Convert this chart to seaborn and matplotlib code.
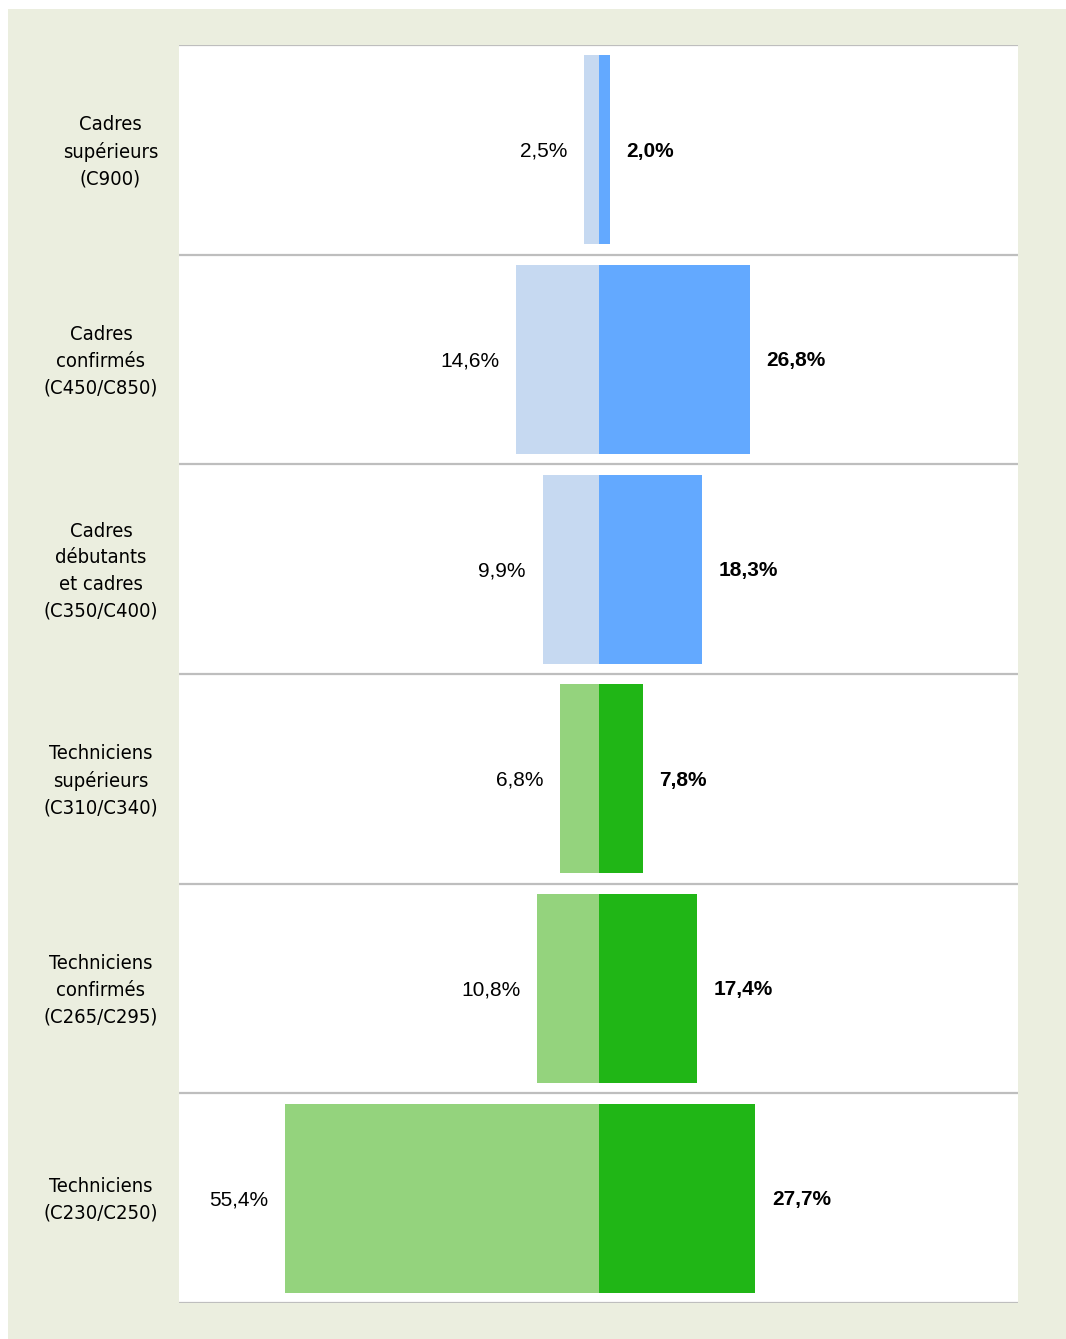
import numpy as np
import pandas as pd
import matplotlib.pyplot as plt
import matplotlib.transforms as mtransforms
import seaborn as sns
from matplotlib.patches import Rectangle

# Data
categories = ["Cadres\nsupérieurs\n(C900)",
              "Cadres\nconfirmés\n(C450/C850)",
              "Cadres\ndébutants\net cadres\n(C350/C400)",
              "Techniciens\nsupérieurs\n(C310/C340)",
              "Techniciens\nconfirmés\n(C265/C295)",
              "Techniciens\n(C230/C250)"]
left_values = [2.5, 14.6, 9.9, 6.8, 10.8, 55.4]
right_values = [2.0, 26.8, 18.3, 7.8, 17.4, 27.7]

light_colors = ["#C6D9F1"] * 3 + ["#94D37D"] * 3
dark_colors = ["#63A9FF"] * 3 + ["#20B616"] * 3

df = pd.DataFrame({"cat": categories,
                   "left": [-v for v in left_values],
                   "right": right_values})

sns.set_style("white")
plt.rcParams['font.family'] = ['Liberation Sans', 'DejaVu Sans']
plt.rcParams['text.color'] = 'black'
plt.rcParams['ytick.labelcolor'] = 'black'

fig = plt.figure(figsize=(10.66, 13.39), dpi=100, facecolor="white")
# beige frame behind the white plot area
fig.patches.append(Rectangle((8 / 1066, 0), 1, 1 - 9 / 1339, transform=fig.transFigure,
                             facecolor="#EBEEDF", edgecolor="none", zorder=-10))
ax = fig.add_axes([179 / 1066, 1 - 1303 / 1339, 839 / 1066, 1258 / 1339])
ax.set_facecolor("white")

sns.barplot(data=df, x="left", y="cat", hue="cat", palette=light_colors,
            orient="h", width=0.9, legend=False, ax=ax, saturation=1, linewidth=0)
sns.barplot(data=df, x="right", y="cat", hue="cat", palette=dark_colors,
            orient="h", width=0.9, legend=False, ax=ax, saturation=1, linewidth=0)

ax.set_xlim(-74.2, 74.2)
ax.set_ylim(len(categories) - 0.5, -0.5)
for i in range(len(categories) + 1):
    ax.axhline(i - 0.5, color="#BEBEBE", lw=1.6, zorder=5)

# value labels
for i, (lv, rv) in enumerate(zip(left_values, right_values)):
    ax.annotate(f"{lv:.1f}".replace(".", ",") + "%", (-lv, i), xytext=(-12, -1),
                textcoords="offset points", ha="right", va="center", fontsize=15)
    ax.annotate(f"{rv:.1f}".replace(".", ",") + "%", (rv, i), xytext=(12, -1),
                textcoords="offset points", ha="left", va="center", fontsize=15,
                fontweight="bold")

ax.set_xticks([])
ax.set_xlabel("")
ax.set_ylabel("")
ax.tick_params(axis="y", length=0, pad=15)
shift = mtransforms.ScaledTranslation(0, 4 / 100, fig.dpi_scale_trans)
for lab in ax.get_yticklabels():
    lab.set_family(['DejaVu Sans'])
    lab.set_stretch('condensed')
    lab.set_fontsize(14.5)
    lab.set_multialignment("center")
    lab.set_linespacing(1.5)
    lab.set_transform(lab.get_transform() + shift)
for s in ax.spines.values():
    s.set_visible(False)

fig.savefig("out.png", dpi=100, facecolor=fig.get_facecolor())
